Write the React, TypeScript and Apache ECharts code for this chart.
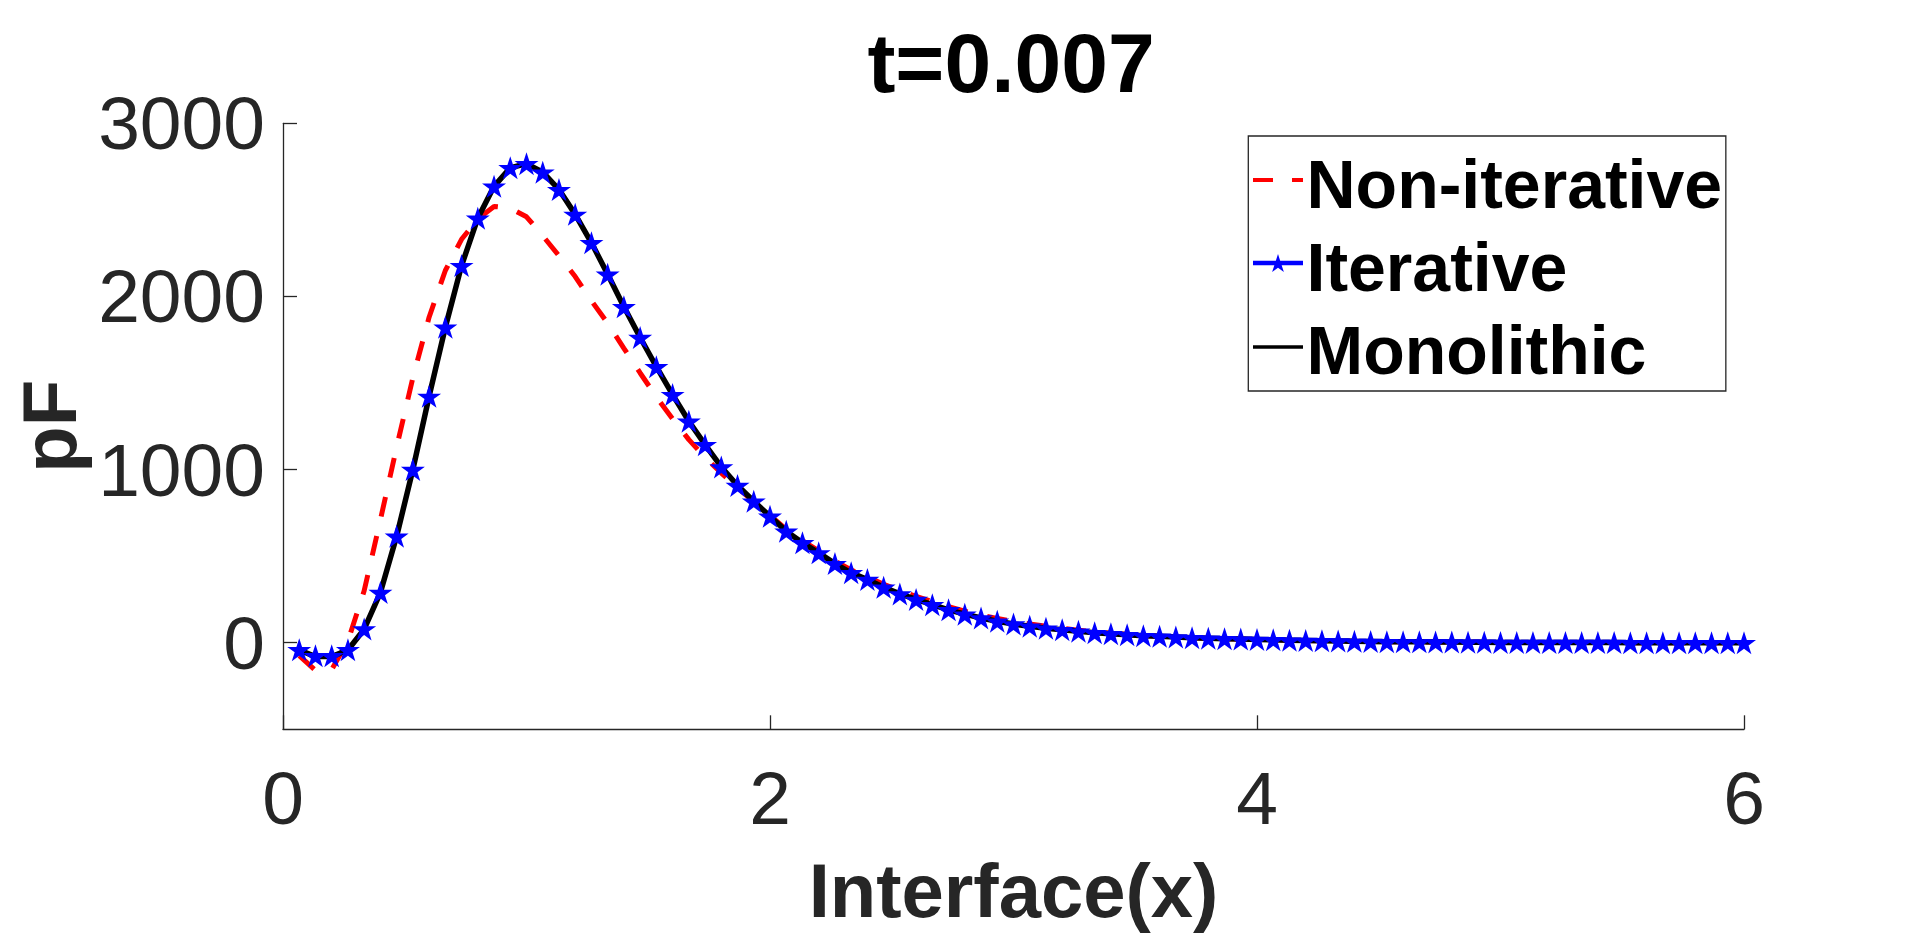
import React, { useEffect, useRef } from "react";
import * as echarts from "echarts";

const X_VALUES = [
  0.0667, 0.1333, 0.2, 0.2667, 0.3333, 0.4, 0.4667, 0.5333, 0.6, 0.6667,
  0.7333, 0.8, 0.8667, 0.9333, 1, 1.0667, 1.1333, 1.2, 1.2667, 1.3333,
  1.4, 1.4667, 1.5333, 1.6, 1.6667, 1.7333, 1.8, 1.8667, 1.9333, 2,
  2.0667, 2.1333, 2.2, 2.2667, 2.3333, 2.4, 2.4667, 2.5333, 2.6, 2.6667,
  2.7333, 2.8, 2.8667, 2.9333, 3, 3.0667, 3.1333, 3.2, 3.2667, 3.3333,
  3.4, 3.4667, 3.5333, 3.6, 3.6667, 3.7333, 3.8, 3.8667, 3.9333, 4,
  4.0667, 4.1333, 4.2, 4.2667, 4.3333, 4.4, 4.4667, 4.5333, 4.6, 4.6667,
  4.7333, 4.8, 4.8667, 4.9333, 5, 5.0667, 5.1333, 5.2, 5.2667, 5.3333,
  5.4, 5.4667, 5.5333, 5.6, 5.6667, 5.7333, 5.8, 5.8667, 5.9333, 6,
];

const NON_ITERATIVE = [
  -75, -160, -155, 10, 300, 710, 1130, 1530, 1880, 2150,
  2330, 2447, 2520, 2510, 2460, 2350, 2235, 2115, 1975, 1845,
  1700, 1558, 1420, 1293, 1173, 1070, 980, 895, 815, 735,
  655, 590, 530, 472, 420, 380, 338, 300, 268, 238,
  208, 182, 160, 140, 123, 108, 95, 83, 72, 63,
  55, 48, 42, 37, 33, 29, 26, 23, 21, 19,
  17, 15, 13, 11, 10, 8, 7, 6, 5, 5,
  4, 4, 3, 3, 2, 2, 2, 1, 1, 1,
  1, 1, 0, 0, 0, 0, 0, 0, 0, 0,
];

const ITERATIVE = [
  -40, -75, -75, -40, 80, 290, 615, 1000, 1423, 1822,
  2178, 2452, 2636, 2743, 2767, 2718, 2617, 2474, 2310, 2128,
  1940, 1763, 1594, 1433, 1279, 1144, 1015, 908, 817, 730,
  644, 577, 519, 457, 404, 365, 320, 282, 250, 220,
  190, 165, 143, 124, 108, 95, 84, 75, 66, 58,
  52, 46, 41, 37, 33, 29, 26, 23, 21, 19,
  17, 15, 13, 11, 10, 8, 7, 6, 5, 5,
  4, 4, 3, 3, 2, 2, 2, 1, 1, 1,
  1, 1, 0, 0, 0, 0, 0, 0, 0, 0,
];

const MONOLITHIC = [
  -42, -80, -80, -42, 78, 290, 615, 1000, 1423, 1822,
  2178, 2452, 2636, 2743, 2767, 2718, 2617, 2474, 2310, 2128,
  1940, 1763, 1594, 1433, 1279, 1144, 1015, 908, 817, 730,
  644, 577, 519, 457, 404, 365, 320, 282, 250, 220,
  190, 165, 143, 124, 108, 95, 84, 75, 66, 58,
  52, 46, 41, 37, 33, 29, 26, 23, 21, 19,
  17, 15, 13, 11, 10, 8, 7, 6, 5, 5,
  4, 4, 3, 3, 2, 2, 2, 1, 1, 1,
  1, 1, 0, 0, 0, 0, 0, 0, 0, 0,
];

const X_TICKS = [0, 2, 4, 6];
const Y_TICKS = [0, 1000, 2000, 3000];
const SERIES_NAMES = ["Non-iterative", "Iterative", "Monolithic"];
const TITLE = "t=0.007";
const X_NAME = "Interface(x)";
const Y_NAME = "pF";

const FONT = "'Liberation Sans', Arial, Helvetica, sans-serif";
const AXIS_COLOR = "#262626";
const STAR =
  "path://M100 0L122.45 69.1L195.1 69.1L136.3 111.8L158.8 180.9L100 138.2L41.2 180.9L63.7 111.8L4.9 69.1L77.55 69.1Z";
const HIDDEN = { color: "rgba(0,0,0,0)", borderWidth: 0, borderColor: "rgba(0,0,0,0)" };

// legend key glyph layout (pixels)
const KEY_X1 = 1253;
const KEY_X2 = 1303;
const KEY_Y = [180, 263, 347];

const starPoints = (cx: number, cy: number, r: number) => {
  const pts: number[][] = [];
  for (let i = 0; i < 10; i++) {
    const a = (-90 + i * 36) * (Math.PI / 180);
    const rr = i % 2 === 0 ? r : r * 0.382;
    pts.push([cx + rr * Math.cos(a), cy + rr * Math.sin(a)]);
  }
  return pts;
};

const pairs = (ys: number[]) => X_VALUES.map((x, i) => [x, ys[i]]);

export default function App() {
  const ref = useRef<HTMLDivElement>(null);

  useEffect(() => {
    if (!ref.current) return;
    const chart = echarts.init(ref.current, undefined, { renderer: "svg" });
    chart.setOption({
      animation: false,
      backgroundColor: "#ffffff",
      title: {
        text: TITLE,
        left: 1011,
        top: 20.6,
        textAlign: "center",
        padding: 0,
        textStyle: {
          fontSize: 84,
          fontWeight: "bold",
          color: "#000000",
          fontFamily: FONT,
          lineHeight: 84,
        },
      },
      legend: {
        orient: "vertical",
        left: 1248.3,
        top: 136,
        itemWidth: 50,
        itemHeight: 20,
        itemGap: 15.35,
        padding: [13.5, 3.7, 6.8, 3.2],
        borderColor: AXIS_COLOR,
        borderWidth: 1.3,
        borderRadius: 0,
        backgroundColor: "#ffffff",
        selectedMode: false,
        icon: "rect",
        itemStyle: HIDDEN,
        data: SERIES_NAMES,
        textStyle: {
          fontSize: 68,
          fontWeight: "bold",
          color: "#000000",
          fontFamily: FONT,
          lineHeight: 68,
        },
      },
      graphic: [
        {
          type: "line",
          z: 100,
          shape: { x1: KEY_X1, y1: KEY_Y[0], x2: KEY_X2, y2: KEY_Y[0] },
          style: { stroke: "#ff0000", lineWidth: 4.2, lineDash: [20, 19] },
        },
        {
          type: "line",
          z: 100,
          shape: { x1: KEY_X1, y1: KEY_Y[1], x2: KEY_X2, y2: KEY_Y[1] },
          style: { stroke: "#0000ff", lineWidth: 4.5 },
        },
        {
          type: "polygon",
          z: 101,
          shape: { points: starPoints((KEY_X1 + KEY_X2) / 2, KEY_Y[1] + 1, 10) },
          style: { fill: "#0000ff" },
        },
        {
          type: "line",
          z: 100,
          shape: { x1: KEY_X1, y1: KEY_Y[2], x2: KEY_X2, y2: KEY_Y[2] },
          style: { stroke: "#000000", lineWidth: 3.4 },
        },
      ],
      grid: {
        left: 283,
        right: 176,
        top: 123.3,
        bottom: 206.7,
        containLabel: false,
      },
      xAxis: {
        type: "value",
        min: 0,
        max: 6,
        interval: 2,
        name: X_NAME,
        nameLocation: "middle",
        nameGap: 123,
        nameTextStyle: {
          fontSize: 76,
          fontWeight: "bold",
          color: AXIS_COLOR,
          fontFamily: FONT,
          lineHeight: 76,
        },
        axisLine: { show: true, onZero: false, lineStyle: { color: AXIS_COLOR, width: 1.3 } },
        axisTick: {
          show: true,
          inside: true,
          length: 14,
          customValues: X_TICKS,
          lineStyle: { color: AXIS_COLOR, width: 1.3 },
        },
        axisLabel: {
          show: true,
          customValues: X_TICKS,
          formatter: (v: number) => String(v),
          margin: 31,
          fontSize: 75,
          lineHeight: 75,
          color: AXIS_COLOR,
          fontFamily: FONT,
        },
        splitLine: { show: false },
      },
      yAxis: {
        type: "value",
        min: -500,
        max: 3000,
        interval: 500,
        name: Y_NAME,
        nameLocation: "middle",
        nameGap: 194.6,
        nameTextStyle: {
          fontSize: 76,
          fontWeight: "bold",
          color: AXIS_COLOR,
          fontFamily: FONT,
          lineHeight: 76,
        },
        axisLine: { show: true, onZero: false, lineStyle: { color: AXIS_COLOR, width: 1.3 } },
        axisTick: {
          show: true,
          inside: true,
          length: 14,
          customValues: Y_TICKS,
          lineStyle: { color: AXIS_COLOR, width: 1.3 },
        },
        axisLabel: {
          show: true,
          customValues: Y_TICKS,
          formatter: (v: number) => String(v),
          margin: 18,
          fontSize: 75,
          lineHeight: 75,
          color: AXIS_COLOR,
          fontFamily: FONT,
        },
        splitLine: { show: false },
      },
      series: [
        {
          name: SERIES_NAMES[0],
          type: "line",
          data: pairs(NON_ITERATIVE),
          symbol: "none",
          lineStyle: { color: "#ff0000", width: 5, type: [20, 20] },
          itemStyle: { color: "#ff0000" },
        },
        {
          name: SERIES_NAMES[1],
          type: "line",
          data: pairs(ITERATIVE),
          symbol: STAR,
          symbolSize: [24, 23],
          showSymbol: true,
          lineStyle: { color: "#0000ff", width: 3 },
          itemStyle: { color: "#0000ff" },
        },
        {
          name: SERIES_NAMES[2],
          type: "line",
          data: pairs(MONOLITHIC),
          symbol: "none",
          lineStyle: { color: "#000000", width: 5.5 },
          itemStyle: { color: "#000000" },
        },
      ],
    });
    return () => chart.dispose();
  }, []);

  return (
    <div
      ref={ref}
      style={{ position: "fixed", left: 0, top: 0, width: 1920, height: 936, background: "#ffffff" }}
    />
  );
}
